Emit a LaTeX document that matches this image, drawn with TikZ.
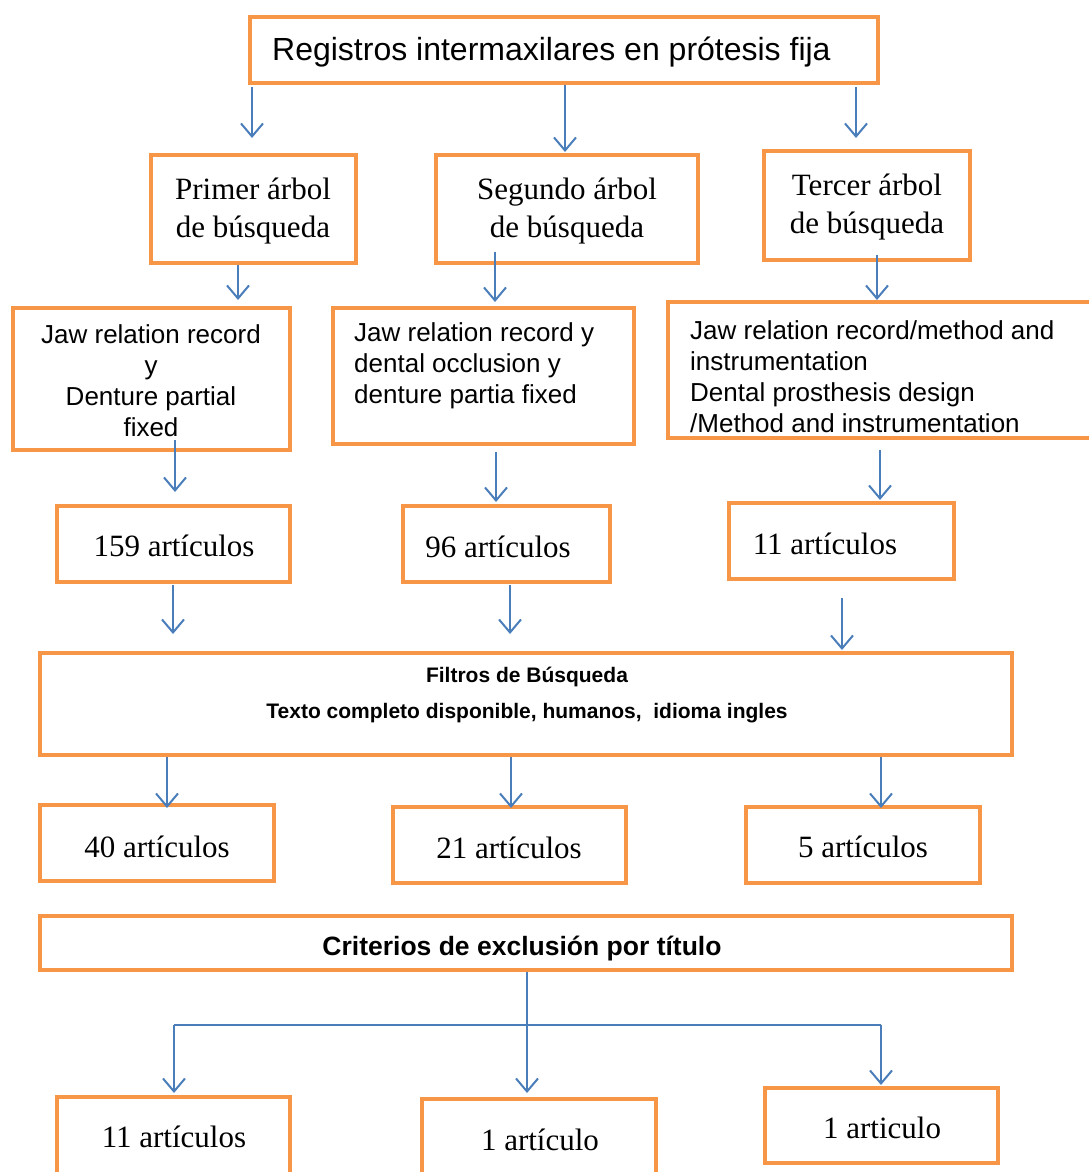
\documentclass[tikz,border=0pt]{standalone}
\usepackage{fontspec}
\setmainfont{Liberation Serif}
\newfontfamily\arial{Liberation Sans}
\usetikzlibrary{arrows.meta,calc}
\definecolor{borange}{HTML}{F79646}
\definecolor{ablue}{HTML}{4A7EBB}
\begin{document}
\begin{tikzpicture}[x=1pt,y=-1pt,
  box/.style={draw=borange, line width=4pt, rectangle, inner sep=0pt, outer sep=0pt},
  arr/.style={draw=ablue, line width=2pt, -{Straight Barb[length=13pt,width=22pt,line width=2pt]}},
  link/.style={draw=ablue, line width=2pt},
  serif/.style={font=\fontsize{31}{38}\selectfont, align=center, inner sep=0pt},
  sans/.style={font=\arial\fontsize{26}{31}\selectfont, inner sep=0pt},
  bsans/.style={font=\arial\bfseries\fontsize{21}{36}\selectfont, align=center, inner sep=0pt},
]
\useasboundingbox (0,0) rectangle (1088,1172);

% boxes
\node[box, minimum width=628pt, minimum height=66pt]  (top)      at (564,50) {};
\node[box, minimum width=205pt, minimum height=108pt] (primer)   at (253.5,209) {};
\node[box, minimum width=262pt, minimum height=108pt] (segundo)  at (567,209) {};
\node[box, minimum width=206pt, minimum height=109pt] (tercer)   at (867,205.5) {};
\node[box, minimum width=277pt, minimum height=142pt] (jawA)     at (151.5,379) {};
\node[box, minimum width=301pt, minimum height=136pt] (jawB)     at (483.5,376) {};
\node[box, minimum width=425pt, minimum height=136pt] (jawC)     at (880.5,370) {};
\node[box, minimum width=233pt, minimum height=76pt]  (n159)     at (173.5,544) {};
\node[box, minimum width=207pt, minimum height=76pt]  (n96)      at (506.5,544) {};
\node[box, minimum width=225pt, minimum height=76pt]  (n11)      at (841.5,541) {};
\node[box, minimum width=972pt, minimum height=102pt] (filtros)  at (526,704) {};
\node[box, minimum width=234pt, minimum height=76pt]  (n40)      at (157,843) {};
\node[box, minimum width=233pt, minimum height=76pt]  (n21)      at (509.5,845) {};
\node[box, minimum width=234pt, minimum height=76pt]  (n5)       at (863,845) {};
\node[box, minimum width=972pt, minimum height=54pt]  (criterios) at (526,943) {};
\node[box, minimum width=233pt, minimum height=83pt]  (b11)      at (173.5,1138.5) {};
\node[box, minimum width=234pt, minimum height=80pt]  (b1a)      at (539,1139) {};
\node[box, minimum width=233pt, minimum height=75pt]  (b1b)      at (881.5,1125.5) {};

% texts
\node[font=\arial\fontsize{32}{38}\selectfont, inner sep=0pt, anchor=west] (ttop) at (272,52) {Registros intermaxilares en prótesis fija};
\node[serif] (tprimer) at (253,211) {Primer árbol\\de búsqueda};
\node[serif] (tsegundo) at (567,211) {Segundo árbol\\de búsqueda};
\node[serif] (ttercer) at (867,207) {Tercer árbol\\de búsqueda};
\node[sans, align=center] (tjawA) at (151,381) {Jaw relation record\\y\\Denture partial\\fixed};
\node[sans, align=left, anchor=west] (tjawB) at (354,366) {Jaw relation record y\\dental occlusion y\\denture partia fixed};
\node[sans, align=left, anchor=west] (tjawC) at (690,376.5) {Jaw relation record/method and\\instrumentation\\Dental prosthesis design\\/Method and instrumentation};
\node[serif] (t159) at (174,546) {159 artículos};
\node[serif] (t96) at (498,547) {96 artículos};
\node[serif] (t11) at (825,544) {11 artículos};
\node[bsans] (tfiltros) at (527,695) {Filtros de Búsqueda\\Texto completo disponible, humanos,\ \ idioma ingles};
\node[serif] (t40) at (157,847) {40 artículos};
\node[serif] (t21) at (509,848) {21 artículos};
\node[serif] (t5) at (863,847) {5 artículos};
\node[font=\arial\bfseries\fontsize{26.5}{30}\selectfont, inner sep=0pt] (tcrit) at (522,949) {Criterios de exclusión por título};
\node[serif] (tb11) at (174,1137) {11 artículos};
\node[serif] (tb1a) at (540,1140) {1 artículo};
\node[serif] (tb1b) at (882,1128) {1 articulo};

% connectors
\draw[arr] ($(top.south)+(-312,4)$) -- ($(primer.north)+(-1.5,-17)$);
\draw[arr] ($(top.south)+(1,2)$) -- ($(segundo.north)+(-2,-3)$);
\draw[arr] ($(top.south)+(292,4)$) -- ($(tercer.north)+(-11,-13)$);
\draw[arr] ($(primer.south)+(-15.5,2)$) -- ($(jawA.north)+(86.5,-8)$);
\draw[arr] ($(segundo.south)+(-72,-11)$) -- ($(jawB.north)+(11.5,-6)$);
\draw[arr] ($(tercer.south)+(10,-5)$) -- ($(jawC.north)+(-3.5,-2)$);
\draw[arr] ($(jawA.south)+(23.5,-10)$) -- ($(n159.north)+(1.5,-14)$);
\draw[arr] ($(jawB.south)+(12.5,8)$) -- ($(n96.north)+(-10.5,-4)$);
\draw[arr] ($(jawC.south)+(-0.5,12)$) -- ($(n11.north)+(38.5,-3)$);
\draw[arr] ($(n159.south)+(-0.5,3)$) -- ($(filtros.north)+(-353,-19)$);
\draw[arr] ($(n96.south)+(3.5,3)$) -- ($(filtros.north)+(-16,-19)$);
\draw[arr] ($(n11.south)+(0.5,19)$) -- ($(filtros.north)+(316,-3)$);
\draw[arr] ($(filtros.south)+(-359,2)$) -- ($(n40.north)+(10,3)$);
\draw[arr] ($(filtros.south)+(-15,2)$) -- ($(n21.north)+(1.5,1)$);
\draw[arr] ($(filtros.south)+(355,2)$) -- ($(n5.north)+(18,1)$);

\coordinate (fl) at (174,1025);
\coordinate (fr) at (881,1025);
\draw[arr] ($(criterios.south)+(1,2)$) -- ($(b1a.north)+(-12,-6)$);
\draw[link] (fl) -- (fr);
\draw[arr] (fl) -- ($(b11.north)+(0.5,-4)$);
\draw[arr] (fr) -- ($(b1b.north)+(-0.5,-3)$);
\end{tikzpicture}
\end{document}
